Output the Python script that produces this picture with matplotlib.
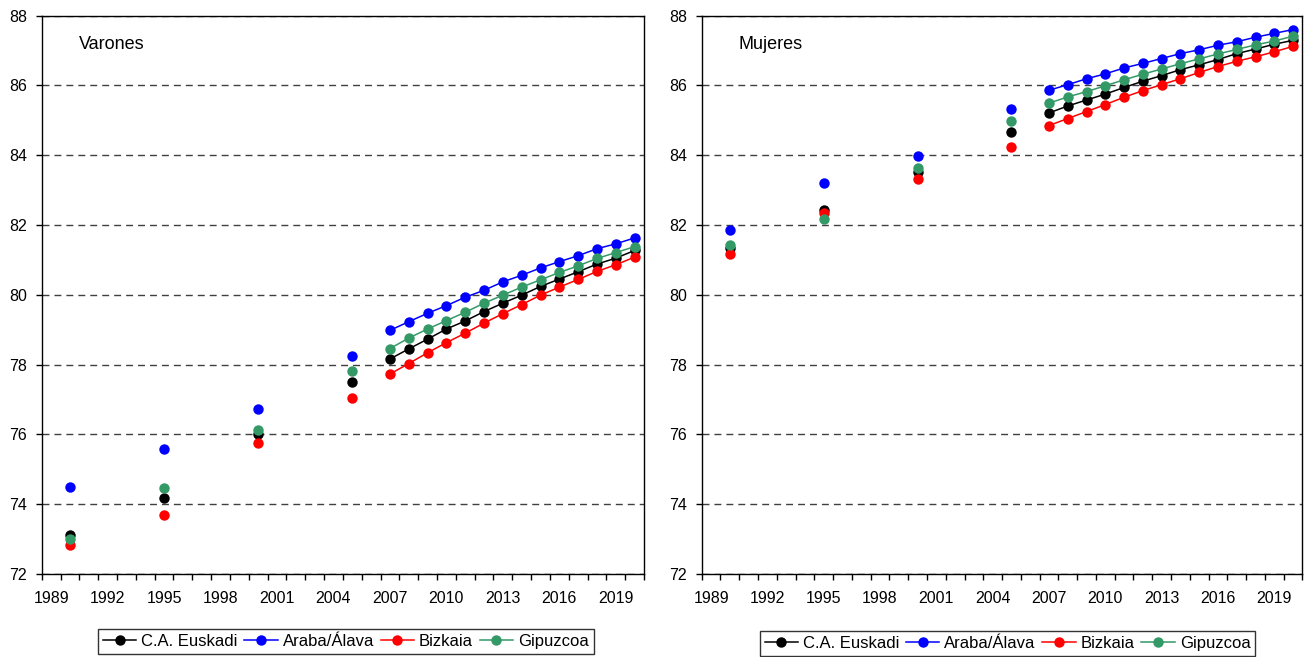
import matplotlib
matplotlib.use("Agg")
from matplotlib import pyplot as plt
from matplotlib.ticker import MultipleLocator, FixedLocator
import numpy as np
import pandas as pd

plt.rcParams['font.family'] = ['Liberation Sans', 'DejaVu Sans']

# years with data (gaps between 1990-2005 and 2007 are left empty)
years = [1990, 1995, 2000, 2005, 2007, 2008, 2009, 2010, 2011, 2012, 2013,
         2014, 2015, 2016, 2017, 2018, 2019, 2020]
all_years = list(range(1989, 2021))

series_names = ['C.A. Euskadi', 'Araba/Álava', 'Bizkaia', 'Gipuzcoa']
series_colors = ['#000000', '#0000FF', '#FF0000', '#339966']

# Varones
men_cae = [73.12, 74.18, 76.00, 77.49, 78.16, 78.45, 78.73, 79.02, 79.25, 79.52, 79.76,
           79.99, 80.24, 80.45, 80.66, 80.88, 81.05, 81.27]
men_araba = [74.49, 75.59, 76.73, 78.25, 78.98, 79.23, 79.47, 79.69, 79.93, 80.13, 80.37,
             80.56, 80.77, 80.95, 81.12, 81.32, 81.46, 81.63]
men_bizkaia = [72.82, 73.70, 75.76, 77.04, 77.73, 78.03, 78.34, 78.63, 78.90, 79.19, 79.46,
               79.72, 79.99, 80.22, 80.44, 80.67, 80.86, 81.08]
men_gipuzcoa = [73.00, 74.46, 76.13, 77.81, 78.46, 78.76, 79.02, 79.26, 79.50, 79.76, 79.99,
                80.22, 80.43, 80.64, 80.83, 81.04, 81.21, 81.38]

# Mujeres
women_cae = [81.34, 82.42, 83.51, 84.65, 85.21, 85.41, 85.58, 85.75, 85.94, 86.12, 86.28,
             86.45, 86.59, 86.74, 86.91, 87.04, 87.18, 87.29]
women_araba = [81.85, 83.20, 83.98, 85.32, 85.86, 86.02, 86.19, 86.33, 86.50, 86.63, 86.77,
               86.91, 87.02, 87.15, 87.25, 87.38, 87.49, 87.60]
women_bizkaia = [81.17, 82.34, 83.33, 84.24, 84.85, 85.05, 85.25, 85.45, 85.66, 85.85, 86.02,
                 86.19, 86.37, 86.54, 86.69, 86.82, 86.96, 87.12]
women_gipuzcoa = [81.42, 82.18, 83.63, 84.99, 85.49, 85.67, 85.82, 85.99, 86.16, 86.32, 86.47,
                  86.62, 86.76, 86.90, 87.03, 87.16, 87.27, 87.41]

panels = [
    ('Varones', [men_cae, men_araba, men_bizkaia, men_gipuzcoa]),
    ('Mujeres', [women_cae, women_araba, women_bizkaia, women_gipuzcoa]),
]

fig = plt.figure(figsize=(13.04, 6.57), dpi=100)
ax_left = fig.add_axes([0.032, 0.1263, 0.4619, 0.850])
ax_right = fig.add_axes([0.5381, 0.1263, 0.4607, 0.850])
legend_pos = [(0.505, -0.121), (0.509, -0.125)]

for i, (ax, (title, data)) in enumerate(zip([ax_left, ax_right], panels)):
    for name, color, vals in zip(series_names, series_colors, data):
        s = pd.Series(vals, index=years, dtype=float).reindex(all_years)
        ax.plot(s.index, s.values, '-o', color=color, lw=1.1, ms=7.5,
                markeredgewidth=0, label=name)

    ax.set_xlim(all_years[0] - 0.5, all_years[-1] + 0.5)
    ax.set_ylim(72, 88)
    ax.yaxis.set_major_locator(MultipleLocator(2))
    ax.xaxis.set_major_locator(FixedLocator(all_years[::3]))
    ax.xaxis.set_minor_locator(FixedLocator(np.arange(1988.5, 2021, 1.0)))
    ax.tick_params(axis='x', which='major', length=0, pad=12, labelsize=11.5)
    ax.tick_params(axis='x', which='minor', length=4, width=1, direction='out')
    ax.tick_params(axis='y', length=4.5, width=1, direction='out', pad=6, labelsize=11.5)
    ax.yaxis.grid(True, color='#404040', lw=1.0, linestyle=(0, (5, 3.6)))
    for sp in ax.spines.values():
        sp.set_color('black')
        sp.set_linewidth(1.0)

    ax.text(0.062, 0.948, title, transform=ax.transAxes, fontsize=13,
            ha='left', va='center')

    leg = ax.legend(loc='center', bbox_to_anchor=legend_pos[i], ncol=4,
                    fontsize=12, frameon=True, fancybox=False, edgecolor='black',
                    handlelength=2.0, handletextpad=0.3, columnspacing=0.4,
                    borderpad=0.3, borderaxespad=0)
    leg.get_frame().set_linewidth(1.0)

fig.savefig('out.png', dpi=100)
